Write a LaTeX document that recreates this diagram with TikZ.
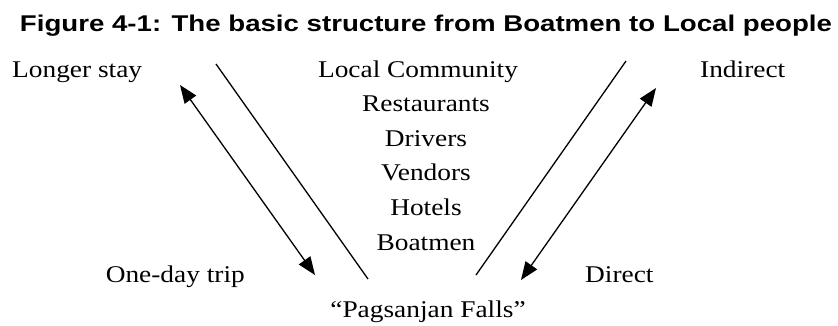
\documentclass[tikz,border=0pt]{standalone}
\usepackage{fontspec}
\setmainfont{Liberation Serif}
\newfontfamily\titlefont{Liberation Sans}
\usetikzlibrary{arrows.meta}
\newcommand\stx[1]{\scalebox{1.14}[1]{#1}}
\tikzset{
  lbl/.style={inner sep=0pt, anchor=base, font=\fontsize{24}{27}\selectfont},
  conn/.style={line width=1.3pt},
  dbl/.style={line width=1.3pt, {Triangle[length=18pt,width=14pt]}-{Triangle[length=18pt,width=14pt]}}
}
\begin{document}
\begin{tikzpicture}[x=1pt,y=-1pt]
\useasboundingbox (0,0) rectangle (838,325);
\node[inner sep=0pt, anchor=base] (title) at (426,31)
  {\resizebox{812pt}{16.5pt}{\titlefont\bfseries Figure 4-1: The basic structure from Boatmen to Local people}};
\node[lbl, anchor=base west] (longer) at (12,77) {\stx{Longer stay}};
\node[lbl] (local) at (418,77) {\stx{Local Community}};
\node[lbl, anchor=base west] (indirect) at (700,77) {\stx{Indirect}};
\node[lbl] (rest) at (426,111.6) {\stx{Restaurants}};
\node[lbl] (drivers) at (426,146.2) {\stx{Drivers}};
\node[lbl] (vendors) at (426,180.8) {\stx{Vendors}};
\node[lbl] (hotels) at (426,215.4) {\stx{Hotels}};
\node[lbl] (boatmen) at (426,250) {\stx{Boatmen}};
\node[lbl, anchor=base east] (oneday) at (245,282) {\stx{One-day trip}};
\node[lbl, anchor=base west] (direct) at (585,282) {\stx{Direct}};
\node[lbl] (falls) at (428,317) {\stx{``Pagsanjan Falls''}};
\coordinate (l1) at (216,64);
\coordinate (l2) at (368,279);
\coordinate (r1) at (626,61);
\coordinate (r2) at (476,275);
\coordinate (la1) at (180,85);
\coordinate (la2) at (315,275);
\coordinate (ra1) at (656,88);
\coordinate (ra2) at (521,280);
\draw[conn] (l1) -- (l2);
\draw[conn] (r1) -- (r2);
\draw[dbl] (la1) -- (la2);
\draw[dbl] (ra1) -- (ra2);
\end{tikzpicture}
\end{document}
